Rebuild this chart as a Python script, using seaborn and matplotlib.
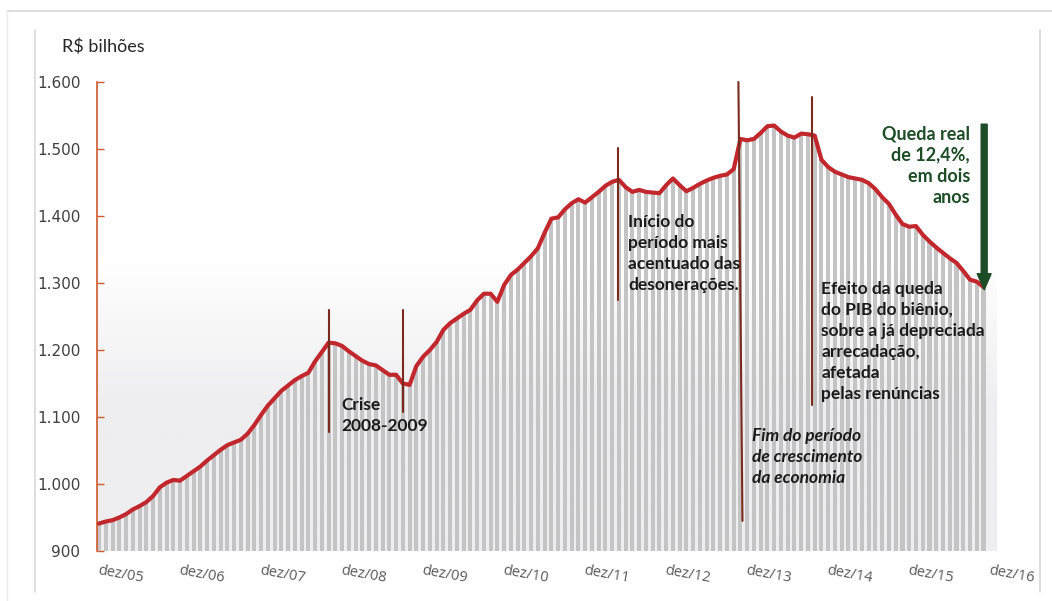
import numpy as np
import pandas as pd
import matplotlib
matplotlib.use('Agg')
import matplotlib.pyplot as plt
from matplotlib.lines import Line2D
from matplotlib.ticker import FuncFormatter
import seaborn as sns

# arrecadação acumulada em 12 meses, R$ bilhões (dez/05 .. nov/16)
valores = [
    941, 944, 946, 950, 955, 962, 967, 973, 982, 995, 1002, 1006,
    1005, 1012, 1019, 1026, 1035, 1043, 1051, 1058, 1062, 1066, 1075, 1088,
    1103, 1117, 1128, 1139, 1147, 1155, 1161, 1166, 1183, 1197, 1211, 1210,
    1206, 1198, 1191, 1184, 1179, 1177, 1170, 1163, 1163, 1150, 1148, 1176,
    1190, 1200, 1212, 1230, 1240, 1247, 1254, 1260, 1274, 1284, 1284, 1272,
    1297, 1312, 1320, 1330, 1340, 1352, 1375, 1396, 1398, 1410, 1419, 1425,
    1420, 1428, 1436, 1445, 1451, 1454, 1443, 1436, 1439, 1436, 1435, 1434,
    1446, 1456, 1446, 1437, 1442, 1448, 1453, 1457, 1460, 1462, 1470, 1515,
    1513, 1515, 1524, 1534, 1535, 1526, 1520, 1517, 1523, 1522, 1520, 1484,
    1473, 1466, 1462, 1458, 1456, 1454, 1449, 1440, 1428, 1418, 1402, 1388,
    1384, 1385, 1372, 1362, 1353, 1345, 1337, 1330, 1318, 1305, 1302, 1294,
]
rotulos_x = ['dez/05', 'dez/06', 'dez/07', 'dez/08', 'dez/09', 'dez/10',
             'dez/11', 'dez/12', 'dez/13', 'dez/14', 'dez/15', 'dez/16']
ticks_y = [900, 1000, 1100, 1200, 1300, 1400, 1500, 1600]

df = pd.DataFrame({'mes': np.arange(len(valores)), 'valor': valores})

sns.set_style('white')
plt.rcParams['font.family'] = ['Lato', 'DejaVu Sans']

fig = plt.figure(figsize=(10.52, 6.01), dpi=100)
ax = fig.add_axes([97 / 1052, 50 / 601, 900 / 1052, 469 / 601])

x0, x1 = -0.3, 133.0
# fundo com leve degradê
grad = np.linspace(0, 1, 256).reshape(-1, 1)
grad = np.clip(grad / 0.62, 0, 1)
cmap = matplotlib.colors.LinearSegmentedColormap.from_list('bg', ['#eeeef0', '#eeeef0', '#ffffff'])
ax.imshow(grad, extent=(x0, x1, 900, 1600), origin='lower', aspect='auto',
          cmap=cmap, vmin=0, vmax=1, zorder=0)

sns.barplot(data=df, x='mes', y='valor', native_scale=True, color='#c4c4c4',
            saturation=1, width=0.6, linewidth=0, ax=ax, zorder=1)
sns.lineplot(data=df, x='mes', y='valor', color='#c1272d', lw=3.0, ax=ax,
             zorder=3, solid_joinstyle='round', solid_capstyle='round')

ax.set_xlim(x0, x1)
ax.set_ylim(900, 1600)
ax.set_xlabel('')
ax.set_ylabel('')

for s in ['top', 'right', 'bottom']:
    ax.spines[s].set_visible(False)
ax.spines['left'].set_color('#d0592e')
ax.spines['left'].set_linewidth(1.2)

ax.set_yticks(ticks_y)
ax.yaxis.set_major_formatter(FuncFormatter(lambda v, p: f'{v:,.0f}'.replace(',', '.')))
ax.tick_params(axis='y', left=True, direction='in', length=5, width=1.0, color='#d0592e', pad=12,
               labelsize=11, labelcolor='#404040', labelfontfamily='DejaVu Sans')

ax.set_xticks(np.arange(0, 12 * len(rotulos_x), 12))
ax.set_xticklabels(rotulos_x, rotation=-10, ha='left', rotation_mode='anchor',
                   fontsize=10.5, color='#595959', family=['Open Sans', 'DejaVu Sans'])
ax.tick_params(axis='x', length=0, pad=9)

# linhas verticais de marcação
marrom = '#7b2a1e'
ax.plot([34.1, 34.1], [1078, 1260], color=marrom, lw=1.5, zorder=4)
ax.plot([45.0, 45.0], [1108, 1260], color=marrom, lw=1.5, zorder=4)
ax.plot([76.9, 76.9], [1274, 1501], color=marrom, lw=1.5, zorder=4)
ax.plot([94.7, 95.3], [1600, 945], color=marrom, lw=1.5, zorder=4, clip_on=False)
ax.plot([105.6, 105.6], [1118, 1578], color=marrom, lw=1.5, zorder=4)

txt = dict(fontsize=12.5, fontweight='bold', color='#1a1a1a', va='top',
           linespacing=1.38, zorder=5)
ax.text(35.9, 1130, 'Crise\n2008-2009', **txt)
ax.text(78.4, 1403, 'Início do\nperíodo mais\nacentuado das\ndesonerações.', **txt)
ax.text(96.7, 1084, 'Fim do período\nde crescimento\nda economia', style='italic', **txt)
ax.text(107.0, 1303, 'Efeito da queda\ndo PIB do biênio,\nsobre a já depreciada\n'
        'arrecadação,\nafetada\npelas renúncias', **txt)

verde = '#1d4d26'
ax.text(129.0, 1535, 'Queda real\nde 12,4%,\nem dois\nanos', ha='right', multialignment='right',
        fontsize=13, fontweight='bold', color=verde, va='top', linespacing=1.3, zorder=5)
ax.annotate('', xy=(131.1, 1290), xytext=(131.1, 1537),
            arrowprops=dict(arrowstyle='simple,head_length=1.15,head_width=1.0,tail_width=0.43',
                            color=verde, mutation_scale=10, shrinkA=0, shrinkB=0), zorder=6)

fig.text(62 / 1052, 1 - 47 / 601, 'R$ bilhões', fontsize=13, color='#262626', va='center')

# moldura cinza clara
cinza = '#d9d9d9'
fig.add_artist(Line2D([7 / 1052, 1], [1 - 11 / 601, 1 - 11 / 601], color=cinza, lw=1.2))
fig.add_artist(Line2D([7 / 1052, 7 / 1052], [0, 1 - 11 / 601], color='#ececec', lw=1.0))
fig.add_artist(Line2D([35 / 1052, 35 / 1052], [1 - 592 / 601, 1 - 30 / 601], color=cinza, lw=1.2))
fig.add_artist(Line2D([1040 / 1052, 1040 / 1052], [1 - 592 / 601, 1 - 30 / 601], color=cinza, lw=1.2))

fig.savefig('out.png', dpi=100)
